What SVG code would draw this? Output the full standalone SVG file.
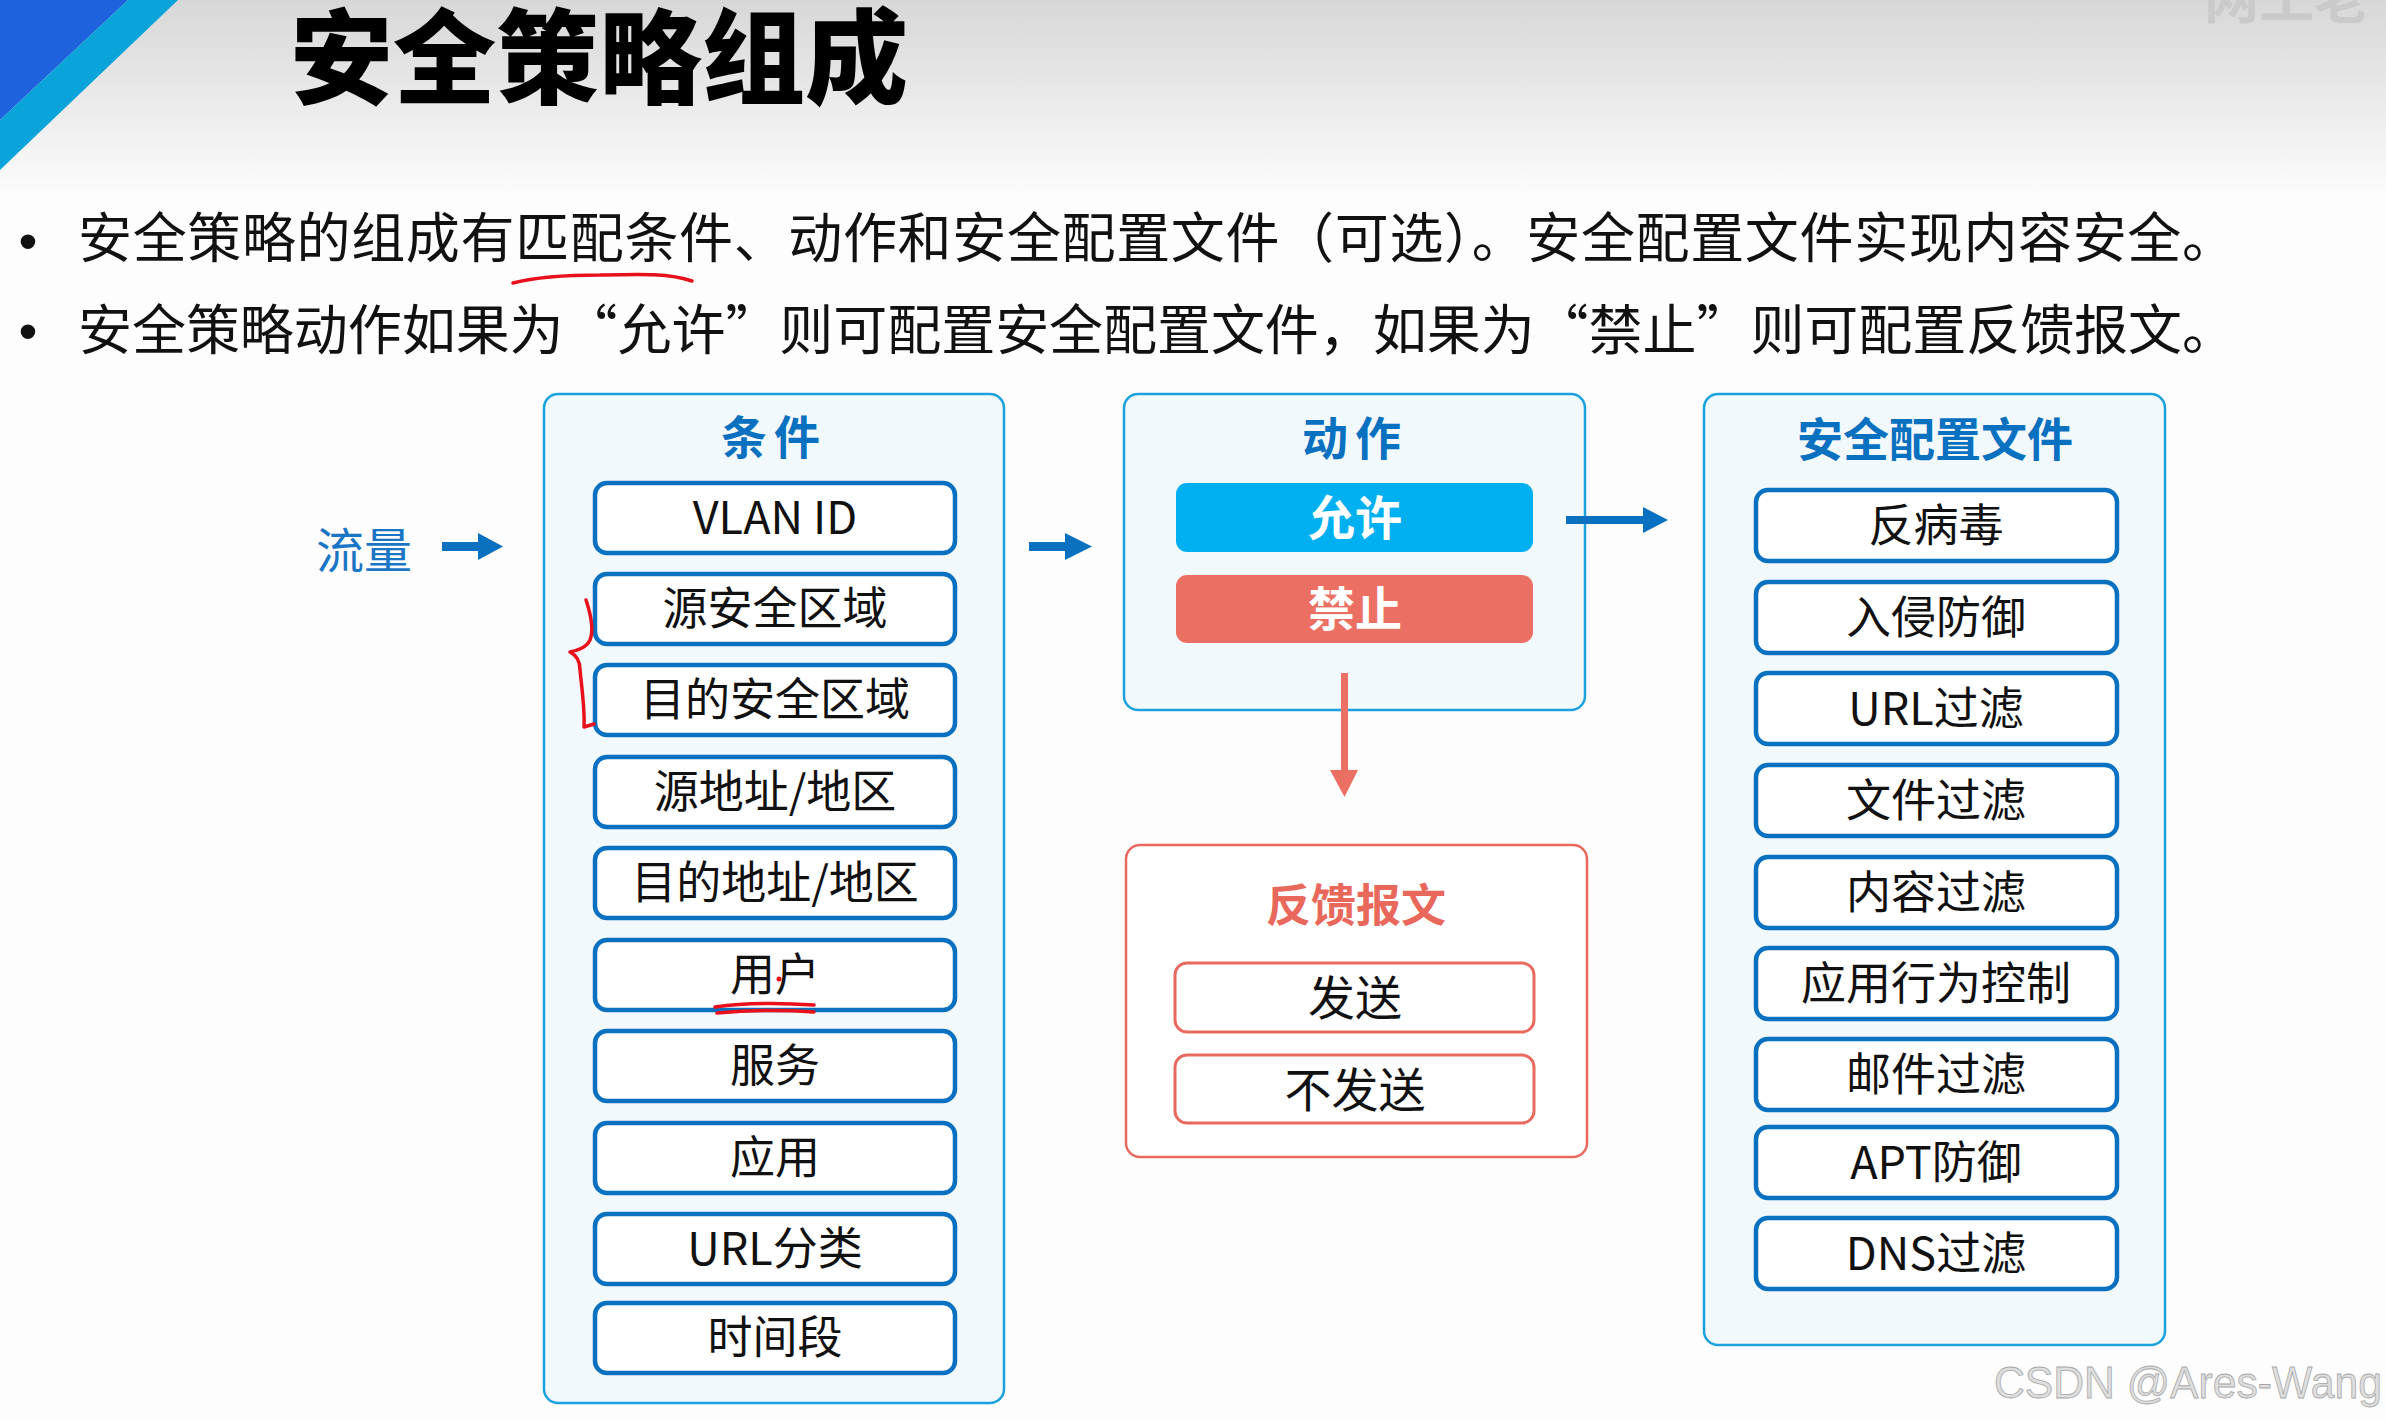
<svg xmlns="http://www.w3.org/2000/svg" width="2386" height="1421" viewBox="0 0 2386 1421">
<defs>
<linearGradient id="bg" x1="0" y1="0" x2="0" y2="1">
<stop offset="0" stop-color="#d6d7d6"/>
<stop offset="1" stop-color="#fdfdfd"/>
</linearGradient>
<style>
.cjk{font-family:"Noto Sans CJK SC","Noto Sans",sans-serif;}
.title{font-size:103px;font-weight:900;fill:#000;}
.bullet{font-size:54px;fill:#111;font-variant-east-asian:full-width;}
.dot{font-family:"Liberation Sans",sans-serif;font-size:54px;fill:#111;}
.panel{fill:#f2f9fd;stroke:#1ba1de;stroke-width:2.5;}
.fpanel{fill:#ffffff;stroke:#e86a5e;stroke-width:2.5;}
.item{fill:#ffffff;stroke:#0a70c0;stroke-width:4.5;}
.fitem{fill:#ffffff;stroke:#e86a5e;stroke-width:3;}
.ptitle{font-size:46px;font-weight:700;fill:#0a70c0;text-anchor:middle;}
.ftitle{font-size:45px;font-weight:700;fill:#e8685b;text-anchor:middle;}
.itxt{font-size:45px;fill:#111;text-anchor:middle;}
.ftxt{font-size:47px;fill:#111;text-anchor:middle;}
.btxt{font-size:47px;font-weight:700;fill:#ffffff;text-anchor:middle;}
.arrow{fill:#0a70c0;}
.rarrow{fill:#eb7063;}
.pen{fill:none;stroke:#e8111b;stroke-width:3.5;stroke-linecap:round;stroke-linejoin:round;}
</style>
</defs>

<!-- background -->
<rect x="0" y="0" width="2386" height="1421" fill="#fdfdfd"/>
<rect x="0" y="0" width="2386" height="200" fill="url(#bg)"/>
<polygon points="0,0 128,0 0,120" fill="#1f62de"/>
<polygon points="128,0 178,0 0,170 0,120" fill="#0ba4da"/>

<!-- watermarks -->
<text class="cjk" x="2204" y="18" font-size="55" font-weight="700" fill="#c9cac9">网工老</text>
<text x="1994" y="1398" font-family="'Liberation Sans',sans-serif" font-size="44" fill="#dedede" stroke="#a8a8a8" stroke-width="0.8" textLength="388" lengthAdjust="spacingAndGlyphs">CSDN @Ares-Wang</text>

<!-- heading and bullets -->
<text class="cjk title" x="290" y="96">安全策略组成</text>
<text class="dot" x="28" y="260" text-anchor="middle">•</text>
<text class="dot" x="28" y="350" text-anchor="middle">•</text>
<text class="cjk bullet" x="78" y="258" textLength="2158" lengthAdjust="spacing">安全策略的组成有匹配条件、动作和安全配置文件（可选）。安全配置文件实现内容安全。</text>
<text class="cjk bullet" x="78" y="350" textLength="2158" lengthAdjust="spacing">安全策略动作如果为“允许”则可配置安全配置文件，如果为“禁止”则可配置反馈报文。</text>

<!-- traffic label -->
<g id="traffic">
<text class="cjk" x="316" y="568" font-size="48" fill="#1a75c4">流量</text>
</g>

<!-- conditions -->
<g id="conditions">
<rect class="panel" x="544" y="394" width="460" height="1009" rx="14"/>
<text class="cjk ptitle" x="774" y="454" letter-spacing="7">条件</text>
<rect class="item" x="595" y="483" width="360" height="70" rx="12"/>
<text class="cjk itxt" x="775" y="534">VLAN ID</text>
<rect class="item" x="595" y="574" width="360" height="70" rx="12"/>
<text class="cjk itxt" x="775" y="625">源安全区域</text>
<rect class="item" x="595" y="665" width="360" height="70" rx="12"/>
<text class="cjk itxt" x="775" y="716">目的安全区域</text>
<rect class="item" x="595" y="757" width="360" height="70" rx="12"/>
<text class="cjk itxt" x="775" y="808">源地址/地区</text>
<rect class="item" x="595" y="848" width="360" height="70" rx="12"/>
<text class="cjk itxt" x="775" y="899">目的地址/地区</text>
<rect class="item" x="595" y="940" width="360" height="70" rx="12"/>
<text class="cjk itxt" x="775" y="991">用户</text>
<rect class="item" x="595" y="1031" width="360" height="70" rx="12"/>
<text class="cjk itxt" x="775" y="1082">服务</text>
<rect class="item" x="595" y="1123" width="360" height="70" rx="12"/>
<text class="cjk itxt" x="775" y="1174">应用</text>
<rect class="item" x="595" y="1214" width="360" height="70" rx="12"/>
<text class="cjk itxt" x="775" y="1265">URL分类</text>
<rect class="item" x="595" y="1303" width="360" height="70" rx="12"/>
<text class="cjk itxt" x="775" y="1354">时间段</text>
</g>

<!-- action -->
<g id="action">
<rect class="panel" x="1124" y="394" width="461" height="316" rx="14"/>
<text class="cjk ptitle" x="1355" y="455" letter-spacing="7">动作</text>
<rect x="1176" y="483" width="357" height="69" rx="11" fill="#00b0f0"/>
<text class="cjk btxt" x="1355" y="535">允许</text>
<rect x="1176" y="575" width="357" height="68" rx="11" fill="#eb7063"/>
<text class="cjk btxt" x="1355" y="626">禁止</text>
</g>

<!-- feedback -->
<g id="feedback">
<rect class="fpanel" x="1126" y="845" width="461" height="312" rx="14"/>
<text class="cjk ftitle" x="1356" y="922">反馈报文</text>
<rect class="fitem" x="1175" y="963" width="359" height="69" rx="12"/>
<text class="cjk ftxt" x="1355" y="1015">发送</text>
<rect class="fitem" x="1175" y="1055" width="359" height="68" rx="12"/>
<text class="cjk ftxt" x="1355" y="1107">不发送</text>
</g>

<!-- security profiles -->
<g id="profiles">
<rect class="panel" x="1704" y="394" width="461" height="951" rx="14"/>
<text class="cjk ptitle" x="1935" y="456">安全配置文件</text>
<rect class="item" x="1756" y="490" width="361" height="71" rx="12"/>
<text class="cjk itxt" x="1936" y="542">反病毒</text>
<rect class="item" x="1756" y="582" width="361" height="71" rx="12"/>
<text class="cjk itxt" x="1936" y="634">入侵防御</text>
<rect class="item" x="1756" y="673" width="361" height="71" rx="12"/>
<text class="cjk itxt" x="1936" y="725">URL过滤</text>
<rect class="item" x="1756" y="765" width="361" height="71" rx="12"/>
<text class="cjk itxt" x="1936" y="817">文件过滤</text>
<rect class="item" x="1756" y="857" width="361" height="71" rx="12"/>
<text class="cjk itxt" x="1936" y="909">内容过滤</text>
<rect class="item" x="1756" y="948" width="361" height="71" rx="12"/>
<text class="cjk itxt" x="1936" y="1000">应用行为控制</text>
<rect class="item" x="1756" y="1039" width="361" height="71" rx="12"/>
<text class="cjk itxt" x="1936" y="1091">邮件过滤</text>
<rect class="item" x="1756" y="1127" width="361" height="71" rx="12"/>
<text class="cjk itxt" x="1936" y="1179">APT防御</text>
<rect class="item" x="1756" y="1218" width="361" height="71" rx="12"/>
<text class="cjk itxt" x="1936" y="1270">DNS过滤</text>
</g>

<!-- connectors -->
<g id="connectors">
<rect class="arrow" x="442" y="542" width="38" height="9"/>
<polygon class="arrow" points="478,533 503,546.5 478,560"/>
<rect class="arrow" x="1029" y="542" width="38" height="9"/>
<polygon class="arrow" points="1065,533 1092,546.5 1065,560"/>
<rect class="arrow" x="1566" y="516" width="79" height="8"/>
<polygon class="arrow" points="1643,507 1668,520 1643,533"/>
<rect class="rarrow" x="1341" y="673" width="7" height="99"/>
<polygon class="rarrow" points="1330,770 1358,770 1344.5,797"/>
</g>

<!-- hand-drawn annotations -->
<g id="annotations">
<path class="pen" d="M513,283 C540,276 570,275 600,275 C640,274 670,273 692,281"/>
<path class="pen" d="M586,600 C591,615 594,630 590,640 C586,648 578,650 570,652 C576,655 580,660 580,670 C582,690 585,710 584,727 L594,724"/>
<path class="pen" d="M715,1007 C745,1003 785,1003 814,1005"/>
<path class="pen" d="M717,1013 C750,1010 785,1010 814,1012"/>
<circle cx="779" cy="979" r="2.5" fill="#e8111b"/>
</g>
</svg>
